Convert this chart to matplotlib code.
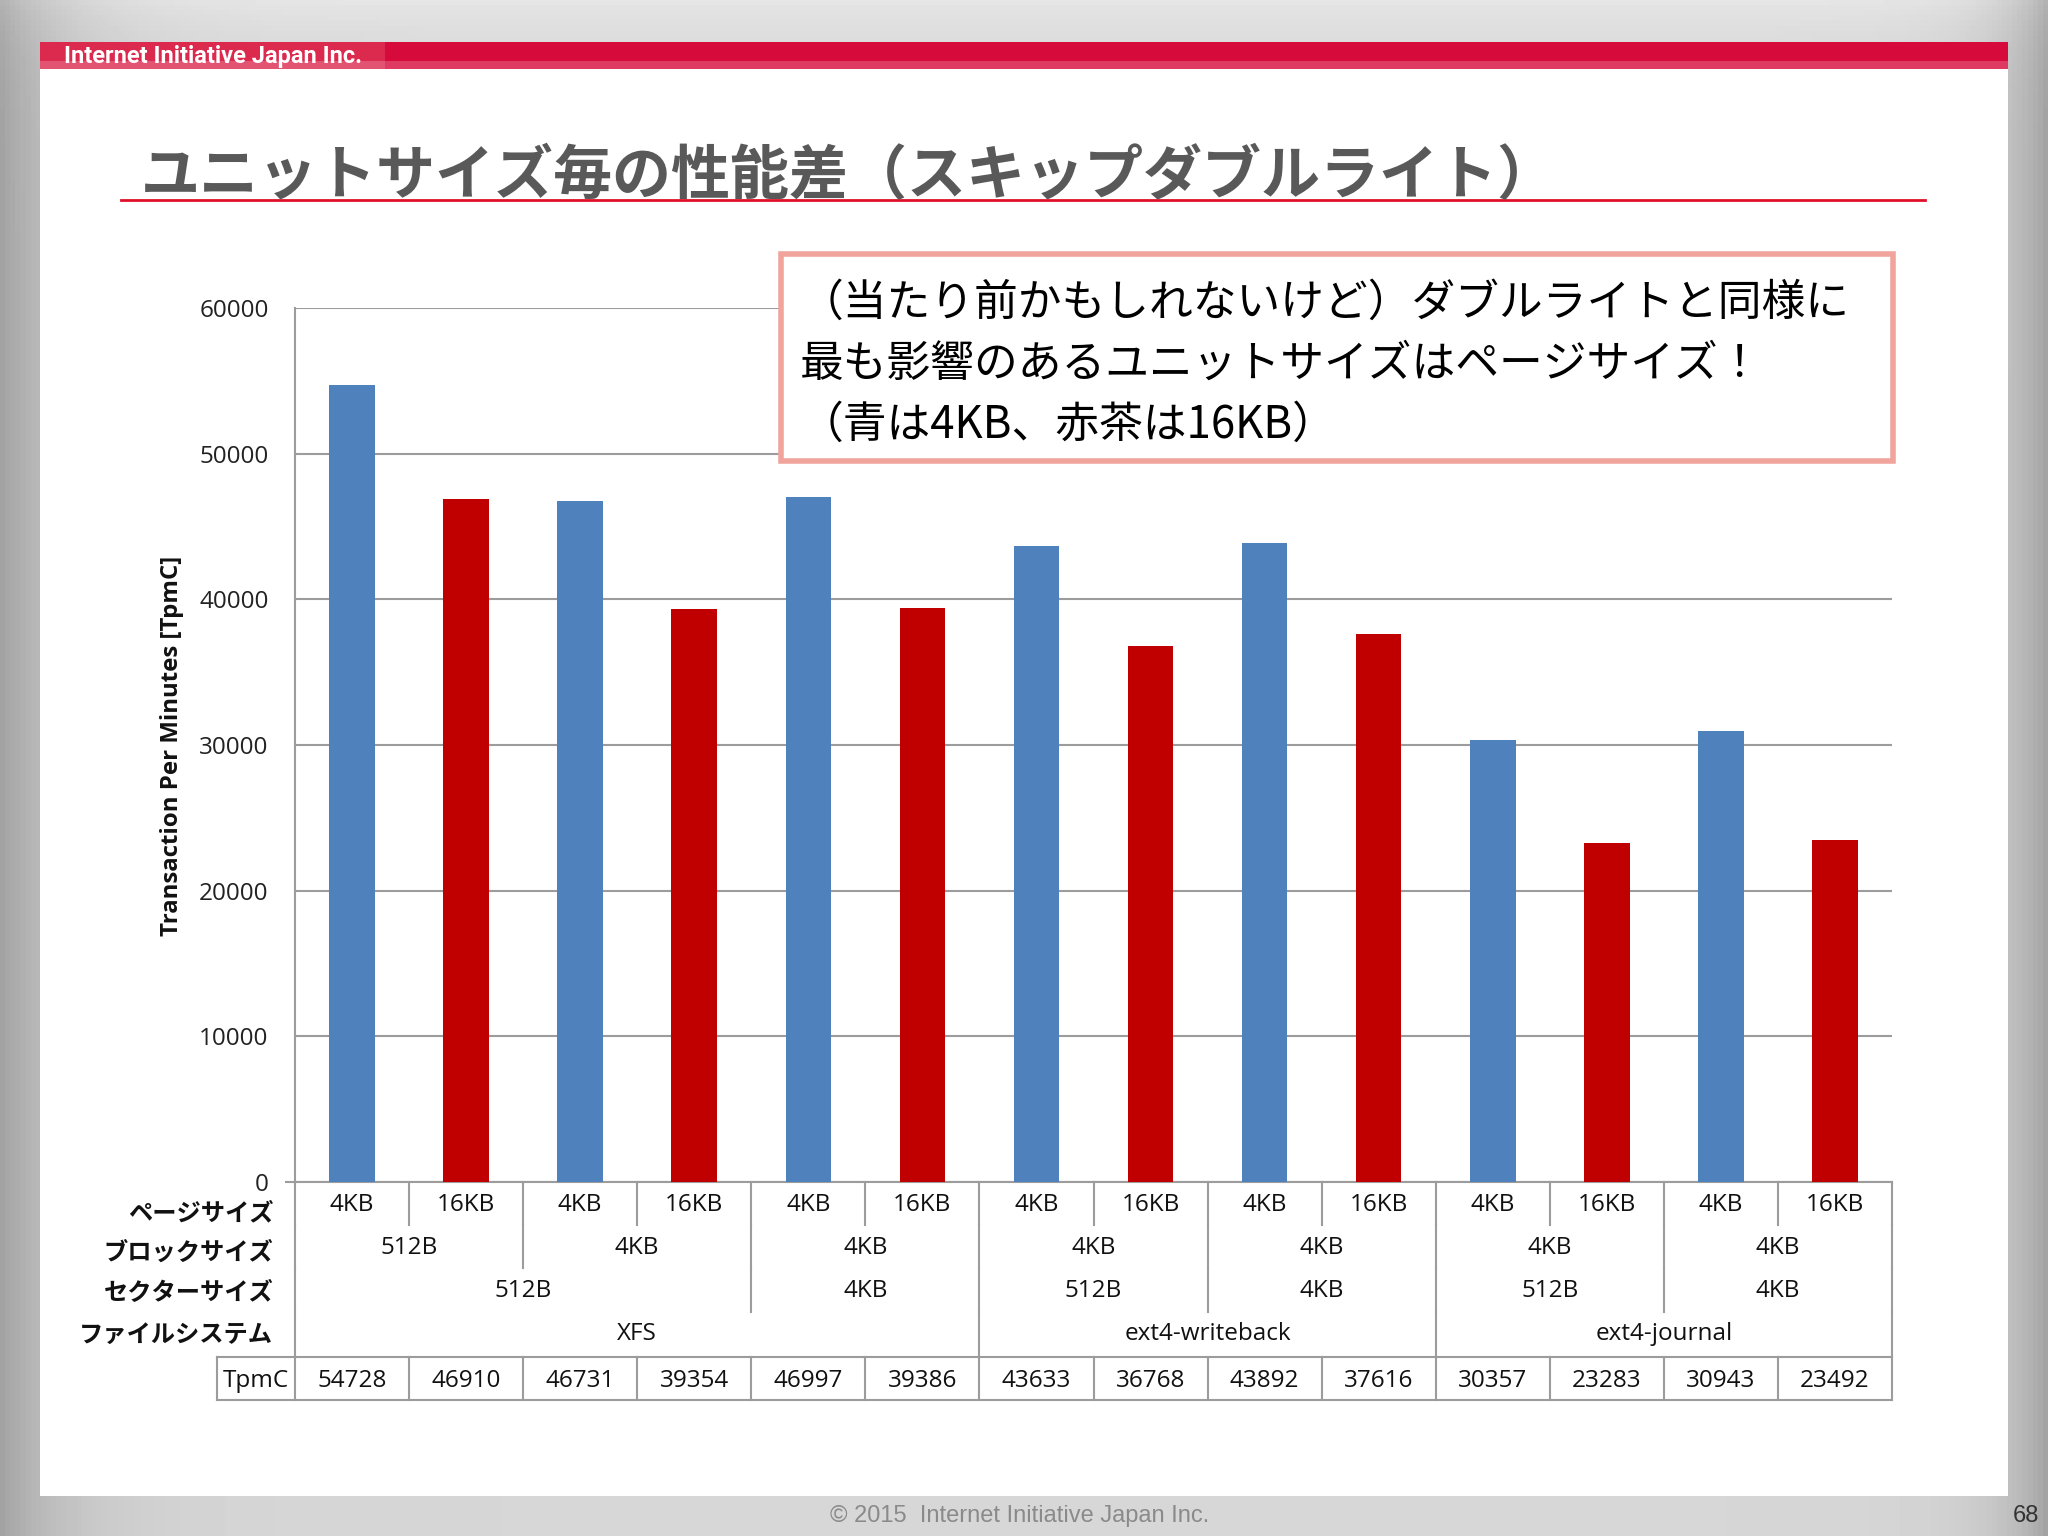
import numpy as np
import matplotlib.pyplot as plt
from matplotlib.patches import Rectangle

plt.rcParams['font.family'] = ['Open Sans', 'Noto Sans CJK JP', 'DejaVu Sans']
JP = ['Noto Sans CJK JP', 'DejaVu Sans']

# data
tpmc = [54728, 46910, 46731, 39354, 46997, 39386, 43633,
        36768, 43892, 37616, 30357, 23283, 30943, 23492]
page_sizes = ['4KB', '16KB'] * 7
block_sizes = ['512B', '4KB', '4KB', '4KB', '4KB', '4KB', '4KB']
block_spans = [2, 2, 2, 2, 2, 2, 2]
sector_sizes = ['512B', '4KB', '512B', '4KB', '512B', '4KB']
sector_spans = [4, 2, 2, 2, 2, 2]
filesystems = ['XFS', 'ext4-writeback', 'ext4-journal']
fs_spans = [6, 4, 4]
row_names = ['ページサイズ', 'ブロックサイズ', 'セクターサイズ', 'ファイルシステム']
yticks = [0, 10000, 20000, 30000, 40000, 50000, 60000]

title = 'ユニットサイズ毎の性能差（スキップダブルライト）'
note = ['（当たり前かもしれないけど）ダブルライトと同様に',
        '最も影響のあるユニットサイズはページサイズ！',
        '（青は4KB、赤茶は16KB）']

BLUE = '#4f81bd'
RED = '#c00000'
LINE = '#9c9c9c'

W, H = 2048, 1536
fig = plt.figure(figsize=(20.48, 15.36), dpi=100)

# slide background
bg = fig.add_axes([0, 0, 1, 1])
bg.set_xlim(0, W)
bg.set_ylim(H, 0)
bg.axis('off')
gx = np.linspace(0, W, 400)
gy = np.linspace(0, H, 300)
GX, GY = np.meshgrid(gx, gy)
g = 0.84 - 0.2 * np.exp(-GX / 70) - 0.2 * np.exp(-(W - GX) / 45) + 0.06 * np.exp(-GY / 40)
bg.imshow(g, cmap='gray', vmin=0, vmax=1, extent=[0, W, H, 0], aspect='auto')
bg.add_patch(Rectangle((40, 60), 1968, 1436, fc='white', ec='none'))
bg.add_patch(Rectangle((40, 42), 1968, 27, fc='#d70a3c', ec='none'))
bg.add_patch(Rectangle((40, 42), 345, 27, fc='#db2a4e', ec='none'))
bg.add_patch(Rectangle((40, 61), 1968, 8, fc='white', ec='none', alpha=0.2))
bg.text(64, 56, 'Internet Initiative Japan Inc.', fontsize=17, fontweight='bold',
        color='white', family='Roboto', va='center', ha='left')
bg.text(141, 194, title, fontsize=42.5, fontweight='bold', color='#595959',
        family=JP, va='baseline', ha='left')
bg.plot([121, 1925], [200, 200], color='#e0102a', lw=2)
bg.text(830, 1516, '© 2015  Internet Initiative Japan Inc.', fontsize=17,
        color='#8a8a8a', family='Liberation Sans', va='center', ha='left')
bg.text(2026, 1516, '68', fontsize=17, color='#333333', family='Liberation Sans',
        va='center', ha='center')

# chart
ax = fig.add_axes([295 / W, 1 - 1182 / H, 1597 / W, 874 / H])
x = np.arange(len(tpmc))
colors = [BLUE if p == '4KB' else RED for p in page_sizes]
ax.bar(x, tpmc, width=0.4, color=colors, zorder=3)
ax.set_xlim(-0.5, len(tpmc) - 0.5)
ax.set_ylim(0, 60000)
ax.set_yticks(yticks)
ax.set_xticks([])
ax.tick_params(axis='y', length=0, pad=19, labelsize=17.5, colors='#222222')
ax.grid(axis='y', color=LINE, lw=1.5, zorder=0)
for s in ['top', 'right']:
    ax.spines[s].set_visible(False)
ax.spines['left'].set_color(LINE)
ax.spines['left'].set_linewidth(1.5)
ax.spines['bottom'].set_color(LINE)
ax.spines['bottom'].set_linewidth(1.5)
fig.text(172 / W, 1 - 746 / H, 'Transaction Per Minutes [TpmC]', rotation=90,
         fontsize=17.3, fontweight='bold', ha='center', va='center', color='#111111')

# category table under the axis
T = ax.get_xaxis_transform()


def ya(py):
    return (1182 - py) / 874


lkw = dict(transform=T, clip_on=False, color=LINE, lw=1.5)
# short tick at zero on the left
ax.plot([-0.58, -0.5], [0, 0], **lkw)

rows = [(1182, 1225), (1225, 1268), (1268, 1312), (1312, 1357)]
text_y = [1205, 1248, 1291, 1334]
name_y = [1213, 1253, 1293, 1335]
levels = [([1] * len(page_sizes), page_sizes),
          (block_spans, block_sizes),
          (sector_spans, sector_sizes),
          (fs_spans, filesystems)]
for (top, bot), ty, ny, (spans, labels), name in zip(rows, text_y, name_y, levels, row_names):
    start = -0.5
    for sp, lab in zip(spans, labels):
        ax.text(start + sp / 2, ya(ty), lab, transform=T, ha='center', va='center',
                fontsize=17.5, color='#111111')
        start += sp
    bounds = np.cumsum([0] + list(spans)) - 0.5
    for b in bounds:
        ax.plot([b, b], [ya(top), ya(bot)], **lkw)
    ax.text(-0.69, ya(ny), name, transform=T, ha='right', va='center', fontsize=17.5,
            fontweight='bold', family=JP, color='#111111')

# TpmC row
t_top, t_bot = 1357, 1400
left = -1.18
ax.plot([left, len(tpmc) - 0.5], [ya(t_top), ya(t_top)], **lkw)
ax.plot([left, len(tpmc) - 0.5], [ya(t_bot), ya(t_bot)], **lkw)
for b in [left] + list(np.arange(len(tpmc) + 1) - 0.5):
    ax.plot([b, b], [ya(t_top), ya(t_bot)], **lkw)
yc = ya(1381)
ax.text((left - 0.5) / 2, yc, 'TpmC', transform=T, ha='center', va='center',
        fontsize=17.5, color='#111111')
for i, v in enumerate(tpmc):
    ax.text(i, yc, str(v), transform=T, ha='center', va='center',
            fontsize=17.5, color='#111111')

# annotation box on top
fg = fig.add_axes([0, 0, 1, 1])
fg.set_xlim(0, W)
fg.set_ylim(H, 0)
fg.axis('off')
fg.patch.set_alpha(0)
fg.add_patch(Rectangle((781, 254), 1112, 207, fc='white', ec='#f0a49b', lw=4))
for i, line in enumerate(note):
    fg.text(800, 303 + i * 61, line, fontsize=31.5, family=JP, color='black',
            ha='left', va='center')

fig.savefig('out.png', dpi=100)
